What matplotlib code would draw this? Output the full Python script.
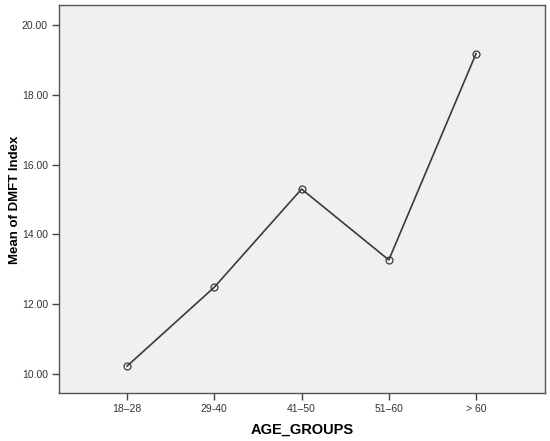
import numpy as np
import matplotlib.pyplot as plt

plt.rcParams['font.family'] = ['Liberation Sans', 'DejaVu Sans']

groups = ["18\u201328", "29-40", "41\u201350", "51\u201360", "> 60"]
means = [10.23, 12.49, 15.30, 13.27, 19.18]
yticks = [10, 12, 14, 16, 18, 20]

fig = plt.figure(figsize=(5.5, 4.41), dpi=100)
ax = fig.add_axes([59/550, 1 - 393/441, 486/550, 388/441])
ax.set_facecolor("#f0f0f0")

x = np.arange(len(groups))
ax.plot(x, means, color="#3a3a3a", lw=1.2, marker="o", ms=5,
        mfc="none", mec="#3a3a3a", mew=0.9)

ax.set_xlim(-0.78, 4.79)
ax.set_ylim(9.46, 20.57)
ax.set_xticks(x)
ax.set_xticklabels(groups, fontsize=7.5, color="#333333")
ax.set_yticks(yticks)
ax.set_yticklabels([f"{v:.2f}" for v in yticks], fontsize=7.5, color="#333333")
ax.tick_params(length=5, width=1, color="#444444", pad=3)
for s in ax.spines.values():
    s.set_color("#555555")
    s.set_linewidth(1)

ax.set_xlabel("AGE_GROUPS", fontsize=10.5, fontweight="bold", labelpad=6)
fig.text(15/550, 1 - 200/441, "Mean of DMFT Index", rotation=90,
         ha="center", va="center", fontsize=9.5, fontweight="bold")

fig.savefig("out.png", dpi=100)
